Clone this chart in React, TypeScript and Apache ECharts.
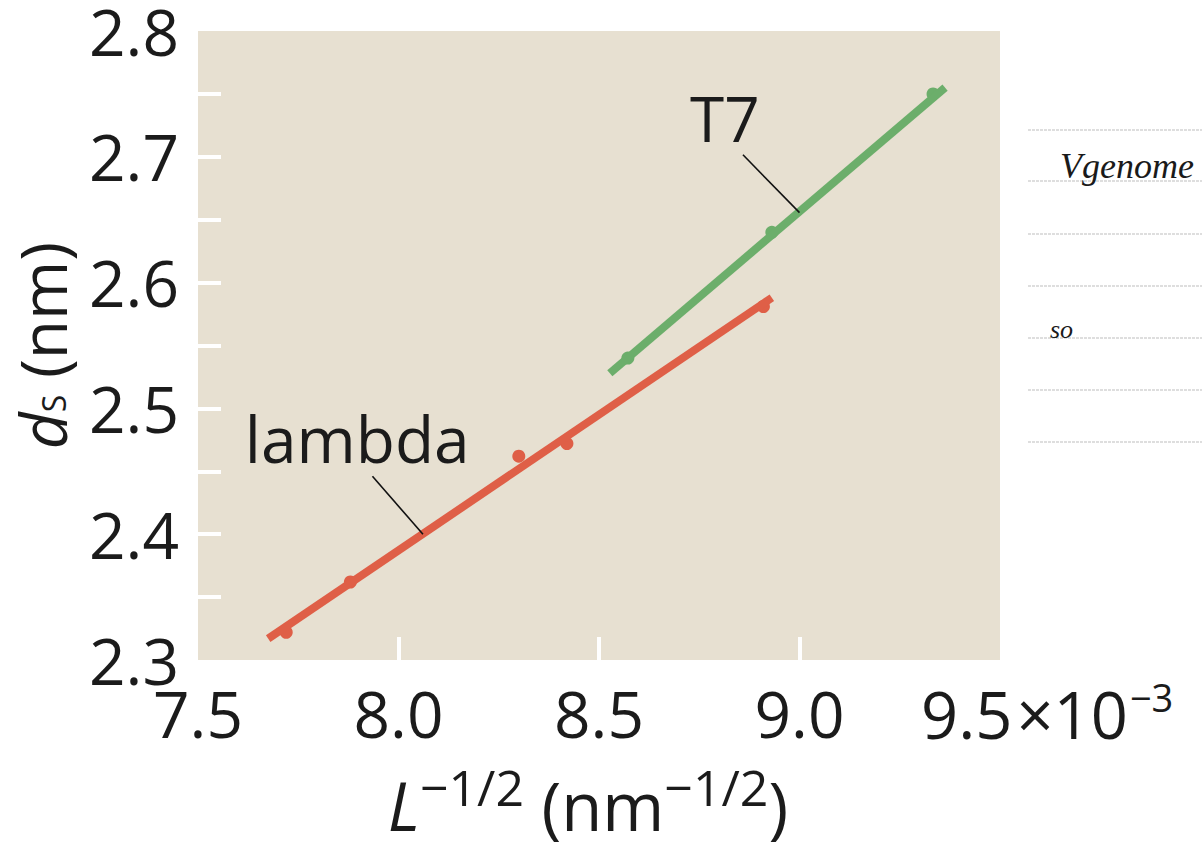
import React, { useEffect, useRef } from "react";
import * as echarts from "echarts";

// ---- data ----
const lambdaPoints: [number, number][] = [
  [7.72, 2.322],
  [7.88, 2.362],
  [8.30, 2.462],
  [8.42, 2.472],
  [8.91, 2.581],
];
const lambdaFit: [number, number][] = [
  [7.675, 2.317],
  [8.931, 2.588],
];
const t7Points: [number, number][] = [
  [8.572, 2.54],
  [8.931, 2.64],
  [9.333, 2.75],
];
const t7Fit: [number, number][] = [
  [8.527, 2.528],
  [9.363, 2.755],
];
const lambdaLeader: [number, number][] = [
  [7.935, 2.446],
  [8.061, 2.4],
];
const t7Leader: [number, number][] = [
  [8.859, 2.7016],
  [9.0, 2.6556],
];
const lambdaLabelAt: [number, number] = [7.897, 2.476];
const t7LabelAt: [number, number] = [8.814, 2.731];

const xLabelValues = [7.5, 8.0, 8.5, 9.0];
const xTickValues = [8.0, 8.5, 9.0];
const yLabelValues = [2.3, 2.4, 2.5, 2.6, 2.7, 2.8];
const yTickValues = [2.35, 2.4, 2.45, 2.5, 2.55, 2.6, 2.65, 2.7, 2.75];
const lastXValue = "9.5";
const lastXTimes = "×10";
const lastXExp = "−3";
const noteLinesY = [130, 181, 234, 286, 338, 390, 442];

const FONT = "'Open Sans', 'Noto Sans', sans-serif";
const HAND = "'Liberation Serif', 'DejaVu Serif', serif";
const RED = "#df5f47";
const GREEN = "#6cae6b";
const BG = "#e7e0d1";
const INK = "#1b1b1b";

export default function App() {
  const ref = useRef<HTMLDivElement>(null);
  useEffect(() => {
    if (!ref.current) return;
    const chart = echarts.init(ref.current, undefined, { renderer: "svg" });
    const option: any = {
      animation: false,
      backgroundColor: "#ffffff",
      textStyle: { fontFamily: FONT },
      grid: {
        left: 198,
        top: 31,
        right: 202,
        bottom: 192,
        show: true,
        backgroundColor: BG,
        borderWidth: 0,
        containLabel: false,
        outerBoundsMode: "none",
      },
      xAxis: {
        type: "value",
        min: 7.5,
        max: 9.5,
        interval: 0.5,
        splitLine: { show: false },
        axisLine: { show: false },
        axisTick: {
          show: true,
          inside: true,
          length: 23,
          customValues: xTickValues,
          lineStyle: { color: "#ffffff", width: 4 },
        },
        axisLabel: {
          customValues: xLabelValues,
          formatter: (v: number) => v.toFixed(1),
          fontSize: 64,
          lineHeight: 46,
          color: INK,
          fontFamily: FONT,
          margin: 30,
        },
        name: "{i|L}{sup|−1/2}{n| (nm}{sup|−1/2}{n|)}",
        nameLocation: "middle",
        nameGap: 118,
        nameTextStyle: {
          color: INK,
          fontFamily: FONT,
          padding: [0, 22, 0, 0],
          rich: {
            i: { fontSize: 67, fontStyle: "italic", lineHeight: 54, color: INK, fontFamily: FONT },
            n: { fontSize: 67, lineHeight: 54, color: INK, fontFamily: FONT },
            sup: { fontSize: 50, lineHeight: 40, padding: [0, 0, 36, 0], color: INK, fontFamily: FONT },
          },
        },
      },
      yAxis: {
        type: "value",
        min: 2.3,
        max: 2.8,
        interval: 0.05,
        splitLine: { show: false },
        axisLine: { show: false },
        axisTick: {
          show: true,
          inside: true,
          length: 23,
          customValues: yTickValues,
          lineStyle: { color: "#ffffff", width: 4 },
        },
        axisLabel: {
          customValues: yLabelValues,
          formatter: (v: number) => v.toFixed(1),
          fontSize: 64,
          lineHeight: 46,
          color: INK,
          fontFamily: FONT,
          margin: 19,
        },
        name: "{d|d}{s|S}{n| (nm)}",
        nameLocation: "middle",
        nameRotate: 90,
        nameGap: 126,
        nameTextStyle: {
          color: INK,
          fontFamily: FONT,
          rich: {
            d: { fontSize: 64, fontStyle: "italic", lineHeight: 60, color: INK, fontFamily: FONT },
            n: { fontSize: 64, lineHeight: 60, color: INK, fontFamily: FONT },
            s: { fontSize: 32, lineHeight: 30, padding: [22, 0, 0, 0], color: INK, fontFamily: FONT },
          },
        },
      },
      series: [
        {
          type: "scatter",
          data: lambdaPoints,
          symbolSize: 13,
          itemStyle: { color: RED, opacity: 1 },
          z: 2,
          silent: true,
        },
        {
          type: "scatter",
          data: t7Points,
          symbolSize: 13,
          itemStyle: { color: GREEN, opacity: 1 },
          z: 2,
          silent: true,
        },
        {
          type: "line",
          data: lambdaFit,
          symbol: "none",
          lineStyle: { color: RED, width: 8, cap: "butt" },
          z: 3,
          silent: true,
        },
        {
          type: "line",
          data: t7Fit,
          symbol: "none",
          lineStyle: { color: GREEN, width: 8, cap: "butt" },
          z: 3,
          silent: true,
        },
        {
          type: "line",
          data: lambdaLeader,
          symbol: "none",
          lineStyle: { color: "#111", width: 1.6 },
          z: 4,
          silent: true,
        },
        {
          type: "line",
          data: t7Leader,
          symbol: "none",
          lineStyle: { color: "#111", width: 1.6 },
          z: 4,
          silent: true,
        },
        {
          type: "scatter",
          data: [lambdaLabelAt],
          symbolSize: 0,
          silent: true,
          z: 5,
          itemStyle: { opacity: 1 },
          label: {
            show: true,
            position: "inside",
            formatter: "lambda",
            fontSize: 64,
            color: INK,
            opacity: 1,
            fontFamily: FONT,
          },
        },
        {
          type: "scatter",
          data: [t7LabelAt],
          symbolSize: 0,
          silent: true,
          z: 5,
          itemStyle: { opacity: 1 },
          label: {
            show: true,
            position: "inside",
            formatter: "T7",
            fontSize: 62,
            color: INK,
            opacity: 1,
            fontFamily: FONT,
          },
        },
      ],
      graphic: [
        {
          type: "text",
          left: 921,
          top: 678,
          style: {
            text: `{m|${lastXValue}}{x|${lastXTimes}}{s|${lastXExp}}`,
            fill: INK,
            rich: {
              m: { fontSize: 65, lineHeight: 66, fontFamily: FONT, fill: INK },
              x: { fontSize: 65, lineHeight: 66, fontFamily: FONT, fill: INK, padding: [0, 0, 0, 4] },
              s: { fontSize: 38, lineHeight: 38, padding: [0, 0, 34, 2], fontFamily: FONT, fill: INK },
            },
          },
        },
        ...noteLinesY.map((y) => ({
          type: "line",
          shape: { x1: 1028, y1: y, x2: 1202, y2: y },
          style: { stroke: "#bdbdbd", lineWidth: 1, lineDash: [3, 1] },
          silent: true,
        })),
        {
          type: "text",
          left: 1060,
          top: 148,
          style: {
            text: "Vgenome",
            fontSize: 36,
            fontStyle: "italic",
            fontFamily: HAND,
            fill: "#1a1a1a",
          },
        },
        {
          type: "text",
          left: 1050,
          top: 316,
          style: {
            text: "so",
            fontSize: 26,
            fontStyle: "italic",
            fontFamily: HAND,
            fill: "#1a1a1a",
          },
        },
      ],
    };
    chart.setOption(option);
    return () => chart.dispose();
  }, []);
  return (
    <div
      ref={ref}
      style={{ position: "absolute", left: 0, top: 0, width: 1202, height: 852 }}
    />
  );
}
